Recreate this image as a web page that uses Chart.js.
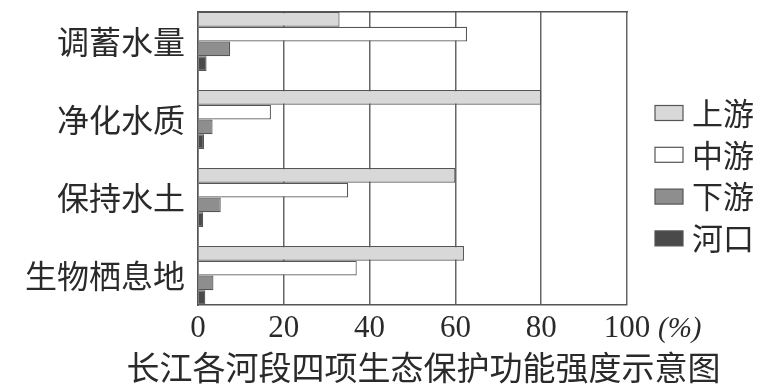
<!DOCTYPE html>
<html>
<head>
<meta charset="utf-8">
<script src="https://cdn.jsdelivr.net/npm/chart.js"></script>
<style>
  html, body { margin: 0; padding: 0; background: #fff; }
  #wrap { width: 774px; height: 392px; }
</style>
</head>
<body>
<div id="wrap"><canvas id="chart"></canvas></div>
<script>
const categories = ["调蓄水量", "净化水质", "保持水土", "生物栖息地"];
const seriesNames = ["上游", "中游", "下游", "河口"];
const upstream = [33, 80, 60, 62];
const midstream = [62.7, 17, 35, 37];
const downstream = [7.5, 3.4, 5.3, 3.6];
const estuary = [2, 1.4, 1.2, 1.7];
const xTicks = [0, 20, 40, 60, 80, 100];
const chartTitle = "长江各河段四项生态保护功能强度示意图";

const fills = ["#d8d8d8", "#ffffff", "#8e8e8e", "#4a4a4a"];
const lineColor = "#666";
const textColor = "#2a2a2a";
const cjk = "'Noto Sans CJK SC', 'Noto Sans', sans-serif";
const serif = "'Liberation Serif', 'DejaVu Serif', serif";

// bar groups touch the top and bottom of the frame
const groupShare = 0.756;

// legend, unit and caption sit outside the plot, so they are drawn by hand
const sidePlugin = {
    id: "sideLegend",
    afterDraw(chart) {
        const ctx = chart.ctx;
        ctx.save();
        chart.data.datasets.forEach((ds, i) => {
            const cy = 113 + i * 41.8;
            ctx.fillStyle = ds.backgroundColor;
            ctx.fillRect(655, cy - 7.5, 28, 15);
            ctx.strokeStyle = "#555";
            ctx.lineWidth = 1.2;
            ctx.strokeRect(655, cy - 7.5, 28, 15);
            ctx.fillStyle = textColor;
            ctx.font = "31px " + cjk;
            ctx.textBaseline = "middle";
            ctx.textAlign = "left";
            ctx.fillText(ds.label, 692, cy);
        });
        const x = chart.scales.x;
        ctx.font = "italic 29px " + serif;
        ctx.fillText("(%)", x.getPixelForValue(100) + 31, 329);

        ctx.font = "33px " + cjk;
        ctx.textAlign = "center";
        ctx.fillText(chartTitle, 423.5, 367);
        ctx.restore();
    }
};

const values = [upstream, midstream, downstream, estuary];

new Chart(document.getElementById("chart"), {
    type: "bar",
    data: {
        labels: categories,
        datasets: seriesNames.map((name, i) => ({
            label: name,
            data: values[i],
            backgroundColor: fills[i],
            borderColor: "#555",
            borderWidth: 1.2,
            categoryPercentage: groupShare,
            barPercentage: 1
        }))
    },
    options: {
        indexAxis: "y",
        responsive: true,
        maintainAspectRatio: false,
        animation: false,
        layout: { padding: { top: 12, right: 147, bottom: 45, left: 0 } },
        plugins: {
            legend: { display: false },
            tooltip: { enabled: false },
            title: { display: false }
        },
        scales: {
            x: {
                type: "linear",
                min: 0,
                max: 100,
                afterBuildTicks(scale) {
                    scale.ticks = xTicks.map(v => ({ value: v }));
                },
                grid: { color: lineColor, lineWidth: 1.5, drawTicks: false },
                border: { display: true, color: "#555", width: 1.5 },
                ticks: {
                    padding: 5,
                    color: textColor,
                    font: { family: serif, size: 31 }
                },
                afterFit(scale) {
                    scale.height = 42;
                    scale.paddingLeft = 0;
                    scale.paddingRight = 0;
                }
            },
            xTop: {
                type: "linear",
                position: "top",
                display: true,
                min: 0,
                max: 100,
                grid: { display: false, drawTicks: false },
                ticks: { display: false },
                border: { display: true, color: "#555", width: 1.5 },
                afterFit(scale) { scale.height = 0; }
            },
            y: {
                type: "category",
                offset: true,
                afterBuildTicks(scale) {
                    scale._startValue = -groupShare / 2;
                    scale._valueRange = categories.length - 1 + groupShare;
                },
                grid: { display: false, drawTicks: false },
                border: { display: true, color: "#555", width: 1.5 },
                ticks: {
                    padding: 13,
                    color: textColor,
                    font: { family: cjk, size: 32 }
                },
                afterFit(scale) {
                    scale.width = 198;
                    scale.paddingTop = 0;
                    scale.paddingBottom = 0;
                }
            }
        }
    },
    plugins: [sidePlugin]
});
</script>
</body>
</html>
